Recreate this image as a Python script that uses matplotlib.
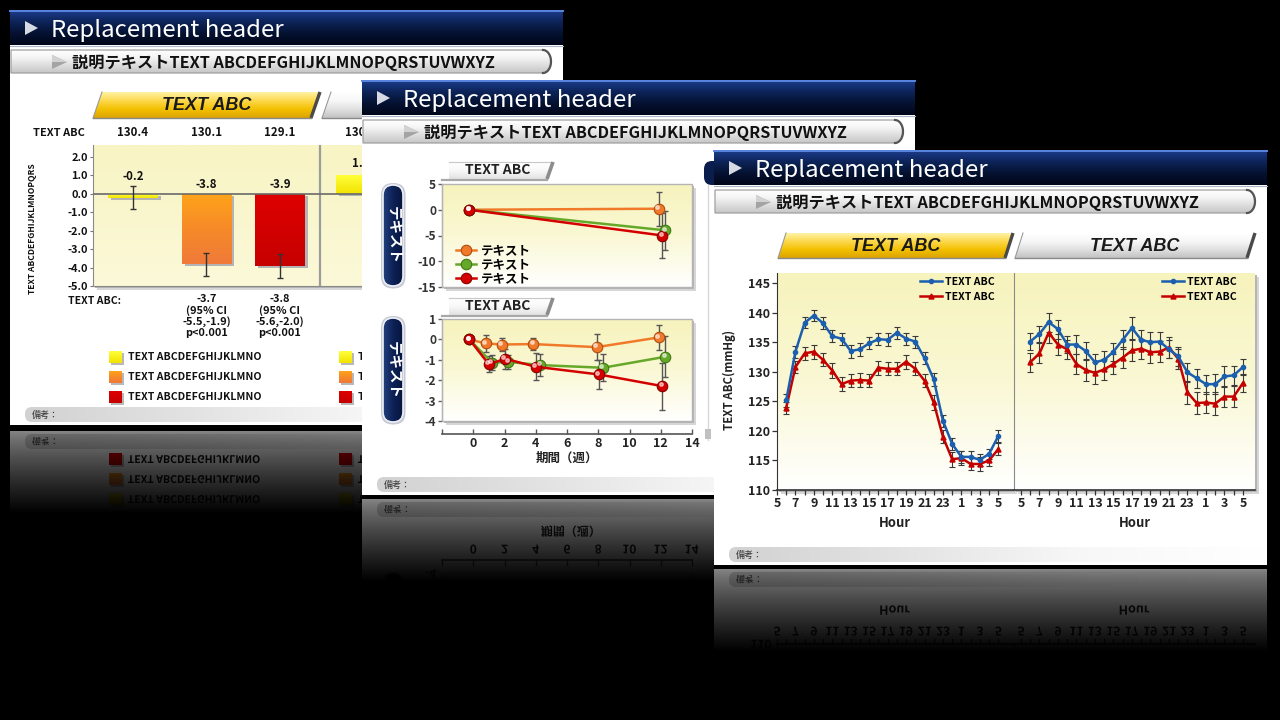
import numpy as np
import matplotlib
matplotlib.use('Agg')
import matplotlib.pyplot as plt
import matplotlib.colors as mcolors
from matplotlib.patches import Rectangle, Polygon, FancyBboxPatch, PathPatch
from matplotlib.textpath import TextPath
from matplotlib.font_manager import FontProperties
from matplotlib.transforms import Affine2D, offset_copy

FAM = ['Noto Sans CJK JP', 'DejaVu Sans']
TAB_FAM = ['Liberation Sans', 'DejaVu Sans']
plt.rcParams['font.family'] = FAM
plt.rcParams['axes.unicode_minus'] = False

# ---------------- texts ----------------
header_title = 'Replacement header'
sub_title = '説明テキストTEXT ABCDEFGHIJKLMNOPQRSTUVWXYZ'
note_label = '備考：'
tab_label = 'TEXT ABC'

# ---------------- slide 1 : bar chart ----------------
bar_labels = ['TEXT ABCDEFGHIJKLMNO', 'TEXT ABCDEFGHIJKLMNO', 'TEXT ABCDEFGHIJKLMNO']
bar_vals = [-0.2, -3.8, -3.9]
bar_err_lo = [0.6, 0.65, 0.65]
bar_err_hi = [0.65, 0.6, 0.65]
bar_base = ['130.4', '130.1', '129.1']
bar_notes = ['', '-3.7\n(95% CI\n-5.5,-1.9)\np<0.001', '-3.8\n(95% CI\n-5.6,-2.0)\np<0.001']
bar2_vals = [1.0]
bar2_base = ['130.5']
bar_ylabel = 'TEXT ABCDEFGHIJKLMNOPQRS'

# ---------------- slide 2 : line charts over weeks ----------------
grp_names = ['テキスト', 'テキスト', 'テキスト']
top_x = [[-0.25, 11.9], [-0.25, 12.3], [-0.25, 12.1]]
top_y = [[0, 0.2], [0, -4.0], [0, -5.0]]
top_err = [[0, 3.3], [0, 3.8], [0, 4.4]]
low_x = [[-0.25, 0.8, 1.85, 3.85, 7.9, 11.9],
         [-0.25, 1.2, 2.25, 4.3, 8.3, 12.3],
         [-0.25, 1.0, 2.05, 4.0, 8.05, 12.1]]
low_y = [[0, -0.2, -0.25, -0.23, -0.38, 0.1],
         [0, -1.14, -1.1, -1.26, -1.39, -0.85],
         [0, -1.22, -0.95, -1.34, -1.72, -2.29]]
low_err = [[0, 0.4, 0.33, 0.3, 0.65, 0.6],
           [0, 0.38, 0.35, 0.55, 0.65, 1.0],
           [0, 0.4, 0.5, 0.65, 0.7, 1.15]]
top_yticks = [5, 0, -5, -10, -15]
low_yticks = [1, 0, -1, -2, -3, -4]
week_ticks = [0, 2, 4, 6, 8, 10, 12, 14]
week_label = '期間（週）'
pill_label = 'テキスト'

# ---------------- slide 3 : 24 h profiles ----------------
bp_names = ['TEXT ABC', 'TEXT ABC']
blue_L = [125.2, 133.4, 138.3, 139.5, 138.2, 136.0, 135.6, 133.5, 133.8, 134.8, 135.5, 135.4,
          136.6, 135.6, 135.1, 132.3, 128.7, 121.7, 117.8, 115.6, 115.6, 115.1, 116.1, 119.1]
red_L = [123.9, 130.8, 133.1, 133.4, 132.0, 130.2, 127.9, 128.5, 128.6, 128.5, 130.7, 130.5,
         130.5, 131.7, 130.5, 128.5, 124.8, 119.0, 115.2, 115.4, 114.4, 114.4, 115.0, 116.9]
blue_R = [135.1, 136.4, 138.4, 137.2, 134.6, 134.6, 133.5, 131.6, 132.0, 133.4, 135.4, 137.4,
          135.4, 135.0, 135.1, 133.8, 132.6, 129.9, 128.9, 127.9, 127.9, 129.2, 129.4, 130.8]
red_R = [131.6, 133.1, 136.6, 134.6, 133.8, 131.3, 130.3, 129.8, 130.4, 131.3, 132.4, 133.6,
         133.9, 133.3, 133.4, 134.1, 132.2, 126.5, 124.7, 124.8, 124.6, 125.8, 125.8, 128.1]
err_blue_L = [1.1, 1.0, 0.9, 0.9, 1.0, 1.0, 1.0, 1.1, 1.1, 1.0, 1.0, 1.1,
              1.0, 1.0, 1.0, 1.0, 1.1, 1.0, 1.0, 1.0, 1.0, 1.0, 0.9, 1.0]
err_red_L = [1.0, 1.0, 1.1, 1.2, 1.1, 1.2, 1.2, 1.1, 1.2, 1.1, 1.2, 1.1,
             1.1, 1.2, 1.1, 1.1, 1.2, 1.1, 1.3, 1.2, 1.1, 1.2, 1.0, 1.0]
err_blue_R = [1.5, 1.4, 1.6, 1.6, 1.5, 1.6, 1.5, 1.4, 1.5, 1.5, 1.6, 1.9,
              1.6, 1.7, 1.6, 1.5, 1.6, 1.6, 1.6, 1.6, 1.7, 1.7, 1.6, 1.4]
err_red_R = [1.6, 1.7, 1.8, 1.7, 1.6, 1.7, 1.8, 1.9, 1.8, 1.7, 1.8, 1.8,
             1.7, 1.8, 1.8, 1.7, 1.7, 1.9, 1.8, 1.8, 1.9, 1.8, 1.8, 1.6]
hour_pos = list(range(0, 25, 2))
hour_labels = [5, 7, 9, 11, 13, 15, 17, 19, 21, 23, 1, 3, 5]
bp_yticks = [110, 115, 120, 125, 130, 135, 140, 145]
bp_ylabel = 'TEXT ABC(mmHg)'
hour_label = 'Hour'

# ---------------- styles ----------------
W, H = 1280, 720
PT = 0.72                     # points per pixel at dpi 100
SW, SH = 553, 415             # slide size
FADE = 82                     # reflection length
HEAD = ['#1d3d8e', '#0d2459', '#051231', '#01061a']
YEL = ['#fff3a6', '#fcd84c', '#f3c000', '#dba300']
WHT = ['#ffffff', '#f7f7f7', '#e0e0e0', '#c2c2c2']
BAR_STOPS = [['#ffff3a', '#f2e200'], ['#ffa41a', '#f68a28', '#f07a3a'], ['#de0000', '#c60000']]
BG1 = ['#f8f4c4', '#fbf9d8']
BG2 = ['#f7f3bd', '#faf8d4', '#ffffff']
GRP = ['#f07a2a', '#66a82a', '#d40000']
GRP_EDGE = ['#b04c10', '#3e7a12', '#8a0000']
BLUE3, RED3 = '#1b5fae', '#c40000'
L_XLIM, R_XLIM = (0, 25.6), (-0.75, 25.3)
BP_YLIM = (110, 146.7)

fig = plt.figure(figsize=(12.8, 7.2), dpi=100, facecolor='black')


def fpos(x0, y0, x1, y1):
    return [x0 / W, 1 - y1 / H, (x1 - x0) / W, (y1 - y0) / H]


def layer(z):
    ax = fig.add_axes([0, 0, 1, 1])
    ax.set_xlim(0, W)
    ax.set_ylim(H, 0)
    ax.set_autoscale_on(False)
    ax.axis('off')
    ax.set_zorder(z)
    return ax


def grad_img(stops, horiz=False):
    cols = np.array([mcolors.to_rgb(c) for c in stops])
    t = np.linspace(0, 1, 128)
    pos = np.linspace(0, 1, len(stops))
    arr = np.stack([np.interp(t, pos, cols[:, k]) for k in range(3)], axis=-1)
    return arr[None, :, :] if horiz else arr[:, None, :]


def grad(ax, x0, y0, x1, y1, stops, z=2, horiz=False, clip=None):
    im = ax.imshow(grad_img(stops, horiz), extent=(x0, x1, y1, y0), aspect='auto',
                   zorder=z, interpolation='bilinear')
    if clip is not None:
        im.set_clip_path(clip)
    return im


def txt(ax, x, y, s, px, **kw):
    kw.setdefault('va', 'center')
    return ax.text(x, y, s, fontsize=px * PT, **kw)


def mtext(ax, x, y, s, px, m, clip, ha='left', weight='normal', color='#111', z=4):
    # mirrored copy of a text for the floor reflection
    tp = TextPath((0, 0), s, size=px, prop=FontProperties(family=FAM, weight=weight))
    bb = tp.get_extents()
    if ha == 'center':
        dx = x - (bb.x0 + bb.x1) / 2
    elif ha == 'right':
        dx = x - bb.x1
    else:
        dx = x - bb.x0
    tr = Affine2D().translate(dx, 2 * m - y - 0.36 * px) + ax.transData
    p = PathPatch(tp, transform=tr, fc=color, ec='none', zorder=z)
    ax.add_patch(p)
    p.set_clip_path(clip)


def frame(ax, ox, oy):
    ax.add_patch(Rectangle((ox, oy), SW, SH, fc='white', ec='none', zorder=1))
    grad(ax, ox, oy, ox + SW, oy + 35, HEAD, z=2)
    ax.plot([ox, ox + SW], [oy + 0.7] * 2, color='#5a86e0', lw=1.4, zorder=3)
    ax.plot([ox, ox + SW], [oy + 35.5] * 2, color='#aab4c8', lw=0.8, zorder=3)
    ax.add_patch(Polygon([(ox + 15, oy + 11), (ox + 15, oy + 25), (ox + 28, oy + 18)],
                         closed=True, fc='#d6dae2', ec='none', zorder=3))
    txt(ax, ox + 41, oy + 20, header_title, 24, color='white', zorder=4)
    # sub header bar
    y0, y1, x0, x1 = oy + 40, oy + 63, ox + 1, ox + 541
    r = (y1 - y0) / 2
    a = np.linspace(-np.pi / 2, np.pi / 2, 25)
    arc = np.column_stack([x1 - 8 + 8 * np.cos(a), (y0 + y1) / 2 + r * np.sin(a)])
    pts = np.vstack([[x0, y0], arc, [x0, y1]])
    shape = Polygon(pts, closed=True, fc='none', ec='#a0a0a0', lw=0.9, zorder=4)
    ax.add_patch(shape)
    grad(ax, x0, y0, x1, y1, ['#ffffff', '#f4f4f4', '#dddddd', '#c6c6c6'], z=3, clip=shape)
    ax.plot(arc[:, 0], arc[:, 1], color='#555555', lw=1.6, zorder=5)
    ax.add_patch(Polygon([(ox + 42, oy + 45), (ox + 42, oy + 59), (ox + 57, oy + 52)],
                         closed=True, fc='#a4a4a4', ec='none', zorder=5))
    ax.add_patch(Polygon([(ox + 42, oy + 45), (ox + 42, oy + 52), (ox + 57, oy + 52)],
                         closed=True, fc='#d2d2d2', ec='none', zorder=5))
    txt(ax, ox + 62, oy + 53, sub_title, 16.2, weight='bold', color='#111', zorder=6)


def footer(ax, ox, oy, m=None, clip=None):
    ya, yb = oy + 397, oy + 412
    if m is not None:
        ya, yb = 2 * m - yb, 2 * m - ya
    shape = FancyBboxPatch((ox + 15, ya), SW + 5, yb - ya, boxstyle='round,pad=0,rounding_size=7',
                           fc='none', ec='none', zorder=2)
    ax.add_patch(shape)
    grad(ax, ox + 15, ya, ox + SW, yb, ['#d2d2d2', '#e4e4e4', '#f8f8f8', '#ffffff'],
         z=2, horiz=True, clip=shape)
    if m is None:
        txt(ax, ox + 22, oy + 405, note_label, 9, color='#333', zorder=3)
    else:
        mtext(ax, ox + 22, oy + 405, note_label, 9, m, clip, color='#333')


def reflect(ax, ox, oy, m, items=None):
    top = 2 * m - (oy + SH)
    ax.add_patch(Rectangle((ox, oy + SH), SW, top - (oy + SH), fc='black', ec='none', zorder=1))
    clip = Rectangle((ox, top), SW, FADE, transform=ax.transData)
    ax.add_patch(Rectangle((ox, top), SW, FADE, fc='white', ec='none', zorder=1))
    footer(ax, ox, oy, m=m, clip=clip)
    if items is not None:
        items(ax, m, clip)
    t = np.linspace(0, 1, 96)
    img = np.zeros((96, 1, 4))
    img[:, 0, 3] = 0.48 + 0.52 * t ** 0.8
    ax.imshow(img, extent=(ox, ox + SW, top + FADE, top), aspect='auto', zorder=20,
              interpolation='bilinear')


def tab(ax, x0, x1, y0, y1, sk, stops, label=None, z=3):
    poly = Polygon([(x0 + sk, y0), (x1, y0), (x1 - sk, y1), (x0, y1)], closed=True,
                   fc='none', ec='none', zorder=z)
    ax.add_patch(poly)
    grad(ax, x0, y0, x1, y1, stops, z=z, clip=poly)
    ax.plot([x0 + sk, x0], [y0, y1], color='#9a9a9a', lw=0.8, zorder=z + 1)
    ax.plot([x1, x1 - sk], [y0, y1], color='#4a4a4a', lw=2.4, zorder=z + 1, solid_capstyle='butt')
    ax.plot([x0, x1 - sk], [y1, y1], color='#8a8a8a', lw=1.0, zorder=z + 1)
    if label:
        ax.text((x0 + x1) / 2, (y0 + y1) / 2 + 1, label, fontsize=18 * PT, ha='center',
                va='center', fontweight='bold', fontstyle='italic', family=TAB_FAM,
                color='#1a1a1a', zorder=z + 2)


def small_tab(ax, x0, x1, y0, y1, label):
    sk = 6
    poly = Polygon([(x0, y0), (x1, y0), (x1 - sk, y1), (x0, y1)], closed=True,
                   fc='none', ec='none', zorder=3)
    ax.add_patch(poly)
    grad(ax, x0, y0, x1, y1, ['#ffffff', '#f8f8f8', '#e2e2e2'], z=3, clip=poly)
    ax.plot([x0, x1], [y0, y0], color='#c8c8c8', lw=0.8, zorder=4)
    ax.plot([x1, x1 - sk], [y0, y1], color='#8c8c8c', lw=2.6, zorder=4, solid_capstyle='butt')
    ax.plot([x0 - 7, x1 - sk], [y1 + 0.8, y1 + 0.8], color='#a8a8a8', lw=1.6, zorder=4)
    txt(ax, (x0 + x1) / 2 - 3, (y0 + y1) / 2, label, 14, ha='center', weight='bold',
        color='#222', zorder=5)


def pill(ax, x0, y0, x1, y1, label):
    ax.add_patch(FancyBboxPatch((x0 - 2, y0 - 2), x1 - x0 + 4.5, y1 - y0 + 4.5,
                                boxstyle='round,pad=0,rounding_size=12', fc='#c4c9d4',
                                ec='none', zorder=2))
    p = FancyBboxPatch((x0, y0), x1 - x0, y1 - y0, boxstyle='round,pad=0,rounding_size=10',
                       fc='none', ec='#eef0f5', lw=1.2, zorder=4)
    ax.add_patch(p)
    grad(ax, x0, y0, x1, y1, ['#23407e', '#0d2256', '#061440'], z=3, horiz=True, clip=p)
    txt(ax, (x0 + x1) / 2, (y0 + y1) / 2, label, 14.5, rotation=-90, ha='center',
        weight='bold', color='white', zorder=5)


def chart_bg(ax, stops):
    ax.imshow(grad_img(stops), extent=(0, 1, 0, 1), transform=ax.transAxes, aspect='auto',
              zorder=0, interpolation='bilinear')


def bold_ticks(ax):
    for lab in ax.get_xticklabels() + ax.get_yticklabels():
        lab.set_fontweight('bold')


def shadow(ax, x0, y0, x1, y1):
    ax.add_patch(Rectangle((x0 + 4, y0 + 4), x1 - x0, y1 - y0, fc='#d6d6d6', ec='none', zorder=2))
    ax.add_patch(Rectangle((x0 + 2, y0 + 2), x1 - x0, y1 - y0, fc='#b4b4b4', ec='none', zorder=2))


# ======================= slide 1 =======================
L1 = layer(1)
frame(L1, 10, 10)
tab(L1, 93, 320, 92, 118, 9, YEL, tab_label)
tab(L1, 322, 560, 92, 118, 9, WHT)
txt(L1, 33, 133, 'TEXT ABC', 11, weight='bold', color='#111', zorder=3)
txt(L1, 68, 301, 'TEXT ABC:', 10.5, weight='bold', color='#111', zorder=3)
shadow(L1, 93, 145, 548, 286)
vis1 = Rectangle((10, 10), 352, 415, transform=L1.transData)   # part of slide 1 left uncovered


def legend1(ax, m=None, clip=None):
    for cx in (109, 339):
        for i, (lab, stops) in enumerate(zip(bar_labels, BAR_STOPS)):
            y_orig = 357 + 20 * i
            yc = y_orig if m is None else 2 * m - y_orig
            sh = Rectangle((cx + 2, yc - 4), 13, 12, fc='#b8b8b8', ec='none', zorder=2)
            sq = Rectangle((cx, yc - 6), 13, 12, fc=stops[-1], ec='none', zorder=3)
            ax.add_patch(sh)
            ax.add_patch(sq)
            grad(ax, cx, yc - 6, cx + 13, yc + 6, stops, z=3, clip=sq)
            if m is None:
                t = txt(ax, cx + 19, yc, lab, 10.5, weight='bold', color='#111', zorder=3)
                t.set_clip_path(vis1)
            else:
                sh.set_clip_path(clip)
                mtext(ax, cx + 19, y_orig, lab, 10.5, m, clip, weight='bold', color='#111')


legend1(L1)
footer(L1, 10, 10)
reflect(L1, 10, 10, 428, items=lambda ax, m, c: legend1(ax, m, c))

ax1 = fig.add_axes(fpos(93, 145, 548, 286))
ax1.set_zorder(2)
chart_bg(ax1, BG1)
bar_x = np.arange(len(bar_vals))
bar2_x = [3.1]
sh_tr = offset_copy(ax1.transData, fig=fig, x=3, y=-2, units='dots')
ax1.bar(bar_x, bar_vals, width=0.667, color='#b4b4b4', zorder=2, transform=sh_tr)
ax1.bar(bar2_x, bar2_vals, width=0.667, color='#b4b4b4', zorder=2, transform=sh_tr)
bars = list(ax1.bar(bar_x, bar_vals, width=0.667, color='none', zorder=3))
bars += list(ax1.bar(bar2_x, bar2_vals, width=0.667, color='none', zorder=3))
for b, stops in zip(bars, BAR_STOPS + [BAR_STOPS[0]]):
    x0, x1 = b.get_x(), b.get_x() + b.get_width()
    ya, yb = sorted([b.get_y(), b.get_y() + b.get_height()])
    im = ax1.imshow(grad_img(stops), extent=(x0, x1, ya, yb), aspect='auto', zorder=3,
                    interpolation='bilinear')
    im.set_clip_path(b)
ax1.axhline(0, color='#6a6a6a', lw=1.2, zorder=4)
ax1.axvline(2.545, color='#9c9c9c', lw=1.6, zorder=1)
ax1.errorbar(bar_x, bar_vals, yerr=[bar_err_lo, bar_err_hi], fmt='none', ecolor='#333',
             elinewidth=1, capsize=2.5, capthick=1, zorder=5)
for x, v, hi in zip(bar_x, bar_vals, bar_err_hi):
    ax1.annotate(f'{v:.1f}', xy=(x, max(0, v + hi)), xytext=(0, 9 * PT), textcoords='offset points',
                 ha='center', va='center', fontsize=11.5 * PT, fontweight='bold', color='#111')
for x, v in zip(bar2_x, bar2_vals):
    ax1.annotate(f'{v:.1f}', xy=(x, v), xytext=(0, 12 * PT), textcoords='offset points',
                 ha='center', va='center', fontsize=11.5 * PT, fontweight='bold', color='#111')
for x, s in zip(list(bar_x) + bar2_x, bar_base + bar2_base):
    ax1.annotate(s, xy=(x, 1), xycoords=('data', 'axes fraction'), xytext=(0, 12 * PT),
                 textcoords='offset points', ha='center', va='center', fontsize=11.5 * PT,
                 fontweight='bold', color='#111', annotation_clip=False)
for x, s in zip(bar_x, bar_notes):
    ax1.annotate(s, xy=(x, 0), xycoords=('data', 'axes fraction'), xytext=(0, -8 * PT),
                 textcoords='offset points', ha='center', va='top', fontsize=11 * PT,
                 fontweight='bold', color='#111', linespacing=1.08, annotation_clip=False)
ax1.set_xlim(-0.544, 5.646)
ax1.set_ylim(-5, 2.65)
ax1.set_xticks([])
ax1.set_yticks(np.arange(-5, 2.5, 1.0))
ax1.set_yticklabels([f'{v:.1f}' for v in np.arange(-5, 2.5, 1.0)])
ax1.tick_params(axis='y', length=3 * PT, width=0.8, color='#777', labelsize=11 * PT,
                pad=2 * PT, labelcolor='#111')
bold_ticks(ax1)
ax1.set_ylabel(bar_ylabel, fontsize=8.5 * PT, fontweight='bold', color='#111')
ax1.yaxis.set_label_coords((37 - 93) / 455, 0.41)
for s in ('top', 'right'):
    ax1.spines[s].set_visible(False)
for s in ('left', 'bottom'):
    ax1.spines[s].set_color('#8a8a8a')

# ======================= slide 2 =======================
L2 = layer(3)
frame(L2, 362, 80)
small_tab(L2, 449, 553, 162, 179, tab_label)
small_tab(L2, 449, 553, 298, 315, tab_label)
pill(L2, 383, 185, 403, 286, pill_label)
pill(L2, 383, 318, 403, 422, pill_label)
shadow(L2, 442, 184, 692, 287)
shadow(L2, 442, 319, 692, 421)
L2.plot([708, 708], [183, 440], color='#d8d8d8', lw=1, zorder=2)
L2.add_patch(Rectangle((705, 429), 6, 10, fc='#c0c0c0', ec='none', zorder=2))
footer(L2, 362, 80)


def wx(v):
    return 442 + (v + 2) / 16 * 250


def items2(ax, m, clip):
    r = Rectangle((442, 2 * m - 421), 250, 102, fc='#fffff4', ec='#a8a8a8', lw=1, zorder=2)
    ax.add_patch(r)
    r.set_clip_path(clip)
    p = FancyBboxPatch((383, 2 * m - 422), 20, 104, boxstyle='round,pad=0,rounding_size=10',
                       fc='#0d2256', ec='#c4c9d4', lw=1.5, zorder=2)
    ax.add_patch(p)
    p.set_clip_path(clip)
    mtext(ax, 436, 421, '-4', 11.5, m, clip, ha='right', weight='bold', color='#333')
    ln, = ax.plot([442, 692], [2 * m - 434] * 2, color='#555', lw=1.2, zorder=3)
    ln.set_clip_path(clip)
    for v in [-2] + week_ticks:
        tk, = ax.plot([wx(v)] * 2, [2 * m - 434, 2 * m - 429], color='#555', lw=1, zorder=3)
        tk.set_clip_path(clip)
    for v in week_ticks:
        mtext(ax, wx(v), 445, str(v), 12, m, clip, ha='center', weight='bold', color='#222')
    mtext(ax, 567, 463, week_label, 12, m, clip, ha='center', weight='bold', color='#222')


reflect(L2, 362, 80, 497, items=items2)


def week_series(ax, xs, ys, es):
    for x, y, e, c, ec, name in zip(xs, ys, es, GRP, GRP_EDGE, grp_names):
        ax.errorbar(x, y, yerr=e, fmt='none', ecolor='#555', elinewidth=1, capsize=2.5,
                    capthick=1, zorder=3)
        ax.plot(x, y, color=c, lw=1.8, marker='o', ms=10.5 * PT, mfc=c, mec=ec, mew=0.8,
                zorder=4, label=name)
        hl = offset_copy(ax.transData, fig=fig, x=-1.8, y=1.8, units='dots')
        ax.plot(x, y, 'o', ms=3.5 * PT, color='white', alpha=0.55, zorder=5, transform=hl)


def week_axes(ax, yticks, ylim):
    ax.set_xlim(-2, 14)
    ax.set_ylim(*ylim)
    ax.set_yticks(yticks)
    ax.set_yticklabels([str(v) for v in yticks])
    ax.tick_params(axis='y', length=4 * PT, width=1, color='#666', labelsize=12 * PT,
                   pad=2 * PT, labelcolor='#333')
    ax.add_patch(Rectangle((0, 0), 1, 1, transform=ax.transAxes, fc='none', ec='#b4b4b4',
                           lw=1, zorder=6, clip_on=False))
    for s in ('top', 'right'):
        ax.spines[s].set_visible(False)
    ax.spines['left'].set_color('#777')


ax2a = fig.add_axes(fpos(442, 184, 692, 287))
ax2a.set_zorder(4)
chart_bg(ax2a, BG2)
week_series(ax2a, top_x, top_y, top_err)
week_axes(ax2a, top_yticks, (-15, 5))
ax2a.set_xticks([])
ax2a.spines['bottom'].set_visible(False)
bold_ticks(ax2a)
h2, l2 = ax2a.get_legend_handles_labels()
ax2a.legend(h2, l2, loc='lower left', bbox_to_anchor=(0.055, 0.02), frameon=False,
            prop=FontProperties(family=FAM, weight='bold', size=12.5 * PT), handlelength=1.6,
            handletextpad=0.45, labelspacing=0.05, borderpad=0, borderaxespad=0)

ax2b = fig.add_axes(fpos(442, 319, 692, 421))
ax2b.set_zorder(4)
chart_bg(ax2b, BG2)
week_series(ax2b, low_x, low_y, low_err)
week_axes(ax2b, low_yticks, (-4, 1))
ax2b.spines['bottom'].set_position(('outward', 13 * PT))
ax2b.spines['bottom'].set_color('#555')
ax2b.spines['bottom'].set_linewidth(1.2)
ax2b.set_xticks([-2] + week_ticks)
ax2b.set_xticklabels([''] + [str(v) for v in week_ticks])
ax2b.tick_params(axis='x', direction='in', length=5 * PT, width=1, color='#555',
                 labelsize=12.5 * PT, pad=3 * PT, labelcolor='#222')
ax2b.set_xlabel(week_label, fontsize=12.5 * PT, fontweight='bold', color='#222', labelpad=2 * PT)
bold_ticks(ax2b)

# ======================= slide 3 =======================
L3 = layer(5)
L3.add_patch(FancyBboxPatch((704, 161), 20, 24, boxstyle='round,pad=0,rounding_size=8',
                            fc='#0b1d4c', ec='none', zorder=1))
frame(L3, 714, 150)
tab(L3, 778, 1013, 233, 258, 8, YEL, tab_label)
tab(L3, 1015, 1255, 233, 258, 8, WHT, tab_label)
shadow(L3, 777, 273, 1013, 490)
shadow(L3, 1014, 273, 1255, 490)
footer(L3, 714, 150)


def hx(v, x0, x1, lim):
    return x0 + (v - lim[0]) / (lim[1] - lim[0]) * (x1 - x0)


def items3(ax, m, clip):
    for x0, x1, lim in ((777, 1013, L_XLIM), (1014, 1255, R_XLIM)):
        r = Rectangle((x0, 2 * m - 490), x1 - x0, 217, fc='#fffff4', ec='#a0a0a0', lw=1, zorder=2)
        ax.add_patch(r)
        r.set_clip_path(clip)
        ln, = ax.plot([x0, x1], [2 * m - 490] * 2, color='#333', lw=1.2, zorder=3)
        ln.set_clip_path(clip)
        for i in range(25):
            tk, = ax.plot([hx(i, x0, x1, lim)] * 2, [2 * m - 490, 2 * m - 495], color='#333',
                          lw=0.9, zorder=3)
            tk.set_clip_path(clip)
        for i, lab in zip(hour_pos, hour_labels):
            mtext(ax, hx(i, x0, x1, lim), 503, str(lab), 12, m, clip, ha='center',
                  weight='bold', color='#222')
        mtext(ax, (x0 + x1) / 2, 524, hour_label, 12.5, m, clip, ha='center', weight='bold',
              color='#222')
    mtext(ax, 771, 490, '110', 12, m, clip, ha='right', weight='bold', color='#222')


reflect(L3, 714, 150, 567, items=items3)


def bp_panel(ax, blue, eb, red, er, xlim, left):
    idx = np.arange(1, len(blue) + 1)
    chart_bg(ax, BG2)
    ax.errorbar(idx, red, yerr=er, fmt='none', ecolor='#3a3a3a', elinewidth=0.8, capsize=2.2,
                capthick=0.8, zorder=3)
    ax.errorbar(idx, blue, yerr=eb, fmt='none', ecolor='#3a3a3a', elinewidth=0.8, capsize=2.2,
                capthick=0.8, zorder=3)
    lr, = ax.plot(idx, red, color=RED3, lw=1.8, marker='^', ms=5 * PT, zorder=4, label=bp_names[1])
    lb, = ax.plot(idx, blue, color=BLUE3, lw=1.8, marker='o', ms=4.2 * PT, zorder=5,
                  label=bp_names[0])
    ax.legend([lb, lr], bp_names, loc='upper right', bbox_to_anchor=(1 - 18 / 236, 1 - 4 / 217),
              frameon=False, prop=FontProperties(family=FAM, weight='bold', size=10.5 * PT),
              handlelength=2.1, handletextpad=0.3, labelspacing=0.45, borderpad=0,
              borderaxespad=0)
    ax.set_xlim(*xlim)
    ax.set_ylim(*BP_YLIM)
    ax.set_xticks(hour_pos)
    ax.set_xticklabels([str(h) for h in hour_labels])
    ax.set_xticks(range(25), minor=True)
    ax.tick_params(axis='x', which='both', direction='out', length=5 * PT, width=0.9,
                   color='#333', labelsize=12.5 * PT, pad=2 * PT, labelcolor='#222')
    ax.set_xlabel(hour_label, fontsize=13 * PT, fontweight='bold', color='#222',
                  labelpad=6 * PT)
    if left:
        ax.set_yticks(bp_yticks)
        ax.set_yticklabels([str(v) for v in bp_yticks])
        ax.tick_params(axis='y', direction='out', length=5 * PT, width=0.9, color='#333',
                       labelsize=12.5 * PT, pad=2 * PT, labelcolor='#222')
        ax.set_ylabel(bp_ylabel, fontsize=11.5 * PT, fontweight='bold', color='#222')
        ax.yaxis.set_label_coords((736 - 777) / 236, 0.507)
        ax.spines['left'].set_color('#333')
    else:
        ax.set_yticks([])
        ax.spines['left'].set_color('#8a8a8a')
    for s in ('top', 'right'):
        ax.spines[s].set_visible(False)
    ax.spines['bottom'].set_color('#333')
    ax.spines['bottom'].set_linewidth(1.2)
    bold_ticks(ax)


ax3a = fig.add_axes(fpos(777, 273, 1013, 490))
ax3a.set_zorder(6)
bp_panel(ax3a, blue_L, err_blue_L, red_L, err_red_L, L_XLIM, True)
ax3b = fig.add_axes(fpos(1014, 273, 1255, 490))
ax3b.set_zorder(6)
bp_panel(ax3b, blue_R, err_blue_R, red_R, err_red_R, R_XLIM, False)

fig.savefig('out.png', dpi=100, facecolor='black')
